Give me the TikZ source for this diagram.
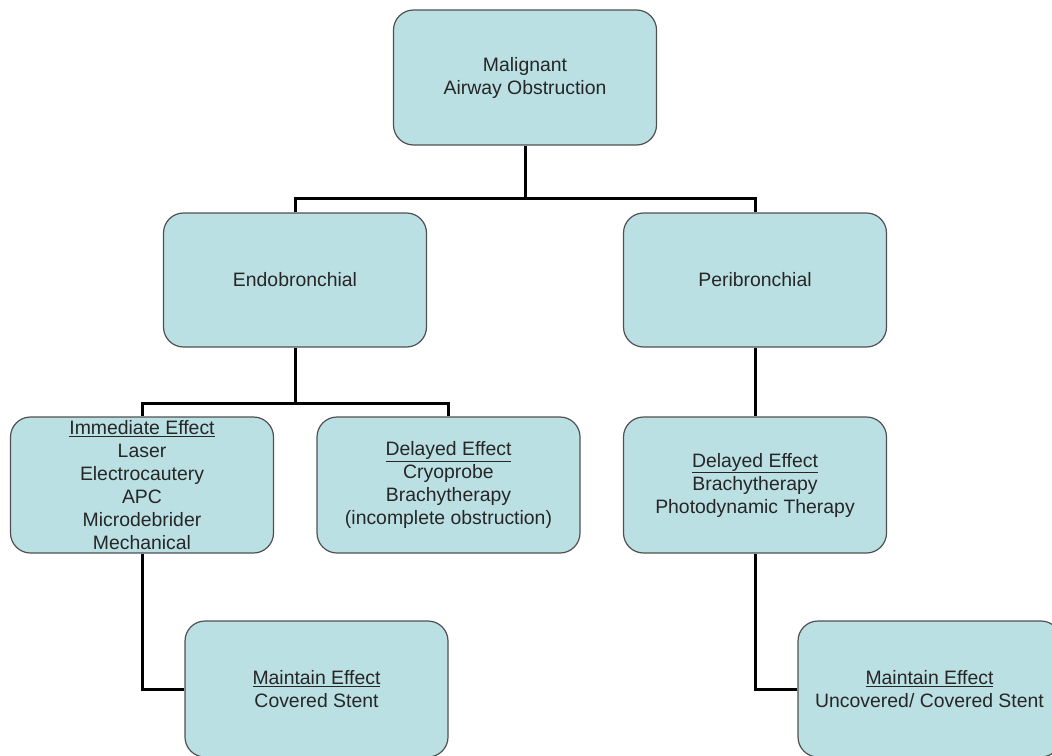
\documentclass[tikz,border=0pt]{standalone}
\usepackage{fontspec}
\setmainfont{Liberation Sans}
\definecolor{boxfill}{RGB}{187,224,227}
\definecolor{boxline}{RGB}{80,80,80}
\tikzset{
  box/.style={draw=boxline, line width=1.2pt, fill=boxfill, rounded corners=20pt,
    minimum width=263pt, minimum height=135pt, inner sep=0pt, align=center,
    font=\fontsize{19.4}{23}\selectfont, text=black!85},
  conn/.style={line width=3pt, draw=black}
}
\newcommand{\ul}[1]{\underline{#1}}
\begin{document}
\begin{tikzpicture}[x=1pt,y=-1pt]
\useasboundingbox (0,0) rectangle (1052,755);
\clip (0,0) rectangle (1052,755);
\node[box] (root) at (525,77.5) {Malignant\\Airway Obstruction};
\node[box, minimum height=134pt] (endo) at (295,280) {Endobronchial};
\node[box, minimum height=134pt] (peri) at (755,280) {Peribronchial};
\node[box, minimum height=136pt] (imm) at (142,485) {\ul{Immediate Effect}\\Laser\\Electrocautery\\APC\\Microdebrider\\Mechanical};
\node[box, minimum height=136pt] (dell) at (448.5,485) {\ul{Delayed Effect}\\Cryoprobe\\Brachytherapy\\(incomplete obstruction)};
\node[box, minimum height=136pt] (delr) at (755,485) {\ul{Delayed Effect}\\Brachytherapy\\Photodynamic Therapy};
\node[box, minimum height=136pt] (mainl) at (316.5,689) {\ul{Maintain Effect}\\Covered Stent};
\node[box, minimum height=136pt] (mainr) at (929.5,689) {\ul{Maintain Effect}\\Uncovered/ Covered Stent};
\coordinate (j1) at (525,198);
\coordinate (j2) at (295,403);
\draw[conn] (root.south) -- (j1) -| (endo.north);
\draw[conn] (j1) -| (peri.north);
\draw[conn] (endo.south) -- (j2) -| (imm.north);
\draw[conn] (j2) -| (dell.north);
\draw[conn] (peri.south) -- (delr.north);
\draw[conn] (imm.south) |- (mainl.west);
\draw[conn] (delr.south) |- (mainr.west);
\end{tikzpicture}
\end{document}
